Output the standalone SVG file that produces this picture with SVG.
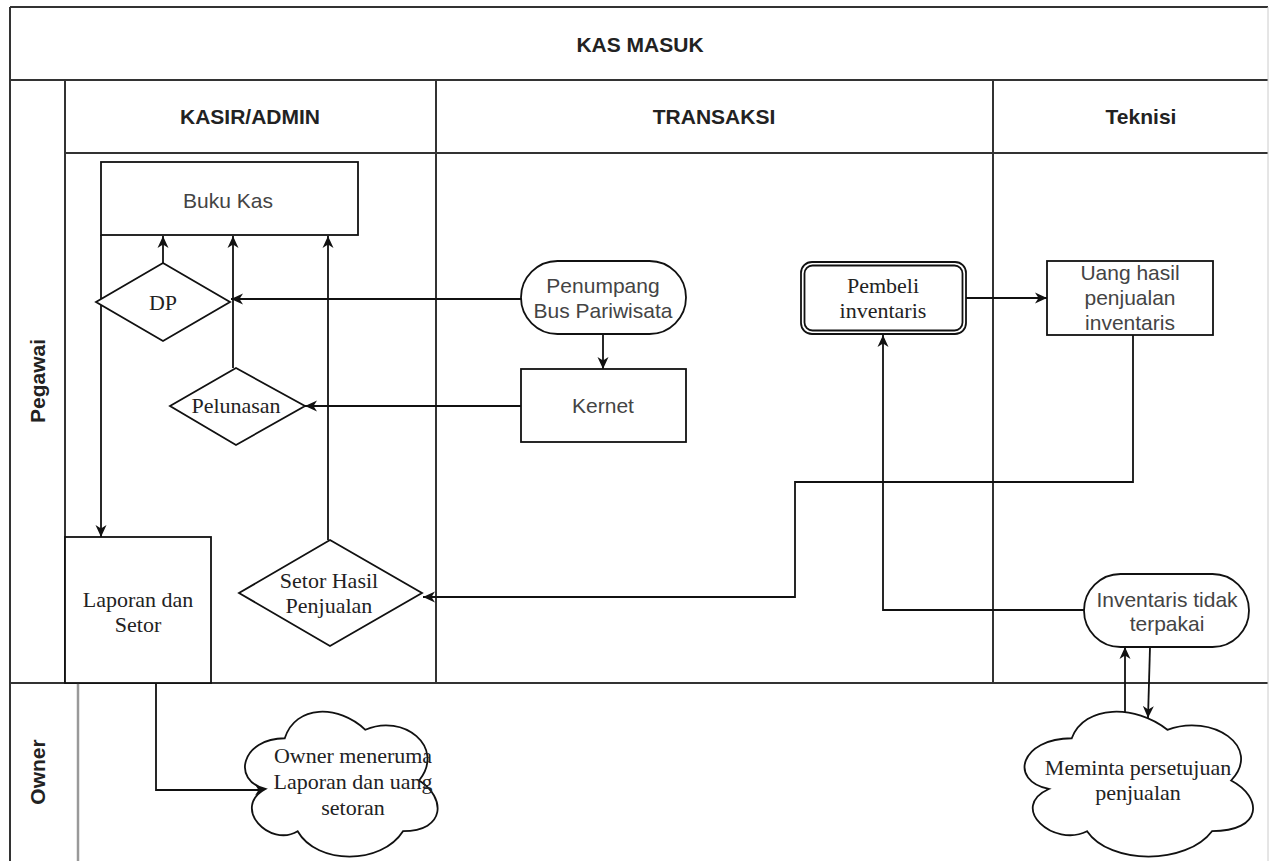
<svg xmlns="http://www.w3.org/2000/svg" width="1270" height="861" viewBox="0 0 1270 861">
<style>
.frame{stroke:#333;stroke-width:2;fill:none}
.shape{fill:#fff;stroke:#111;stroke-width:1.8}
.conn{fill:none;stroke:#111;stroke-width:1.8}
.hdr{font-family:"Liberation Sans",Arial,sans-serif;font-weight:bold;font-size:21px;fill:#222;text-anchor:middle}
.sans{font-family:"Liberation Sans",Arial,sans-serif;font-size:21px;fill:#444;text-anchor:middle}
.serif{font-family:"Liberation Serif","Times New Roman",serif;font-size:22px;fill:#222;text-anchor:middle}
</style>
<defs>
<marker id="arr" markerUnits="userSpaceOnUse" markerWidth="13" markerHeight="12" refX="12" refY="6" orient="auto">
<path d="M0,0.5 L12,6 L0,11.5 L3.5,6 Z" fill="#111"/>
</marker>
</defs>
<rect x="0" y="0" width="1270" height="861" fill="#fff"/>
<g id="pool">
<line class="frame" x1="10" y1="7" x2="1268" y2="7"/>
<line class="frame" x1="10" y1="80" x2="1268" y2="80"/>
<line class="frame" x1="65" y1="153" x2="1268" y2="153"/>
<line class="frame" x1="10" y1="7" x2="10" y2="861"/>
<line class="frame" x1="65" y1="80" x2="65" y2="683"/>
<line class="frame" x1="436" y1="80" x2="436" y2="683"/>
<line class="frame" x1="993" y1="80" x2="993" y2="683"/>
<line class="frame" x1="10" y1="683" x2="1268" y2="683"/>
<line x1="78" y1="683" x2="78" y2="861" stroke="#999" stroke-width="2.5"/>
<line x1="1268" y1="7" x2="1268" y2="861" stroke="#ccc" stroke-width="1"/>
<text class="hdr" x="640" y="52">KAS MASUK</text>
<text class="hdr" x="250" y="124">KASIR/ADMIN</text>
<text class="hdr" x="714" y="124">TRANSAKSI</text>
<text class="hdr" x="1141" y="124">Teknisi</text>
<text class="hdr" transform="translate(45,381) rotate(-90)" x="0" y="0">Pegawai</text>
<text class="hdr" transform="translate(45,772) rotate(-90)" x="0" y="0">Owner</text>
</g>
<g id="connectors">
<line class="conn" x1="163" y1="263" x2="163" y2="236" marker-end="url(#arr)"/>
<line class="conn" x1="233" y1="368" x2="233" y2="236" marker-end="url(#arr)"/>
<line class="conn" x1="328" y1="540" x2="328" y2="236" marker-end="url(#arr)"/>
<line class="conn" x1="101" y1="235" x2="101" y2="537" marker-end="url(#arr)"/>
<line class="conn" x1="521" y1="299" x2="231" y2="299" marker-end="url(#arr)"/>
<line class="conn" x1="603" y1="334" x2="603" y2="369" marker-end="url(#arr)"/>
<line class="conn" x1="521" y1="406" x2="305" y2="406" marker-end="url(#arr)"/>
<line class="conn" x1="966" y1="298" x2="1047" y2="298" marker-end="url(#arr)"/>
<polyline class="conn" points="1133,335 1133,482 795,482 795,597 423,597" marker-end="url(#arr)"/>
<polyline class="conn" points="1084,610 883,610 883,335" marker-end="url(#arr)"/>
<line class="conn" x1="1125" y1="713" x2="1125" y2="647" marker-end="url(#arr)"/>
<line class="conn" x1="1150" y1="647" x2="1148" y2="718" marker-end="url(#arr)"/>
<polyline class="conn" points="156,683 156,790 267,790" marker-end="url(#arr)"/>
</g>
<g id="buku-kas">
<rect class="shape" x="101" y="162" width="257" height="73"/>
<text class="sans" x="228" y="208">Buku Kas</text>
</g>
<g id="dp">
<polygon class="shape" points="163,263 230,302 163,341 96,302"/>
<text class="serif" x="163" y="310">DP</text>
</g>
<g id="pelunasan">
<polygon class="shape" points="236,368 305,406 236,445 170,406"/>
<text class="serif" x="236" y="413">Pelunasan</text>
</g>
<g id="laporan">
<rect class="shape" x="65" y="537" width="146" height="146"/>
<text class="serif" x="138" y="607">Laporan dan</text>
<text class="serif" x="138" y="632">Setor</text>
</g>
<g id="setor-hasil">
<polygon class="shape" points="330,540 422,593 330,646 239,593"/>
<text class="serif" x="329" y="588">Setor Hasil</text>
<text class="serif" x="329" y="613">Penjualan</text>
</g>
<g id="penumpang">
<rect class="shape" x="521" y="261" width="165" height="73" rx="36.5" ry="36.5"/>
<text class="sans" x="603" y="293">Penumpang</text>
<text class="sans" x="603" y="318">Bus Pariwisata</text>
</g>
<g id="kernet">
<rect class="shape" x="521" y="369" width="165" height="73"/>
<text class="sans" x="603" y="413">Kernet</text>
</g>
<g id="pembeli">
<rect class="shape" x="801" y="262" width="165" height="72" rx="11" ry="11"/>
<rect class="shape" x="804.5" y="265.5" width="158" height="65" rx="8" ry="8"/>
<text class="serif" x="883" y="293">Pembeli</text>
<text class="serif" x="883" y="318">inventaris</text>
</g>
<g id="uang-hasil">
<rect class="shape" x="1047" y="261" width="166" height="74"/>
<text class="sans" x="1130" y="280">Uang hasil</text>
<text class="sans" x="1130" y="305">penjualan</text>
<text class="sans" x="1130" y="330">inventaris</text>
</g>
<g id="inventaris">
<rect class="shape" x="1084" y="574" width="165" height="73" rx="36.5" ry="36.5"/>
<text class="sans" x="1167" y="607">Inventaris tidak</text>
<text class="sans" x="1167" y="631">terpakai</text>
</g>
<g id="owner-cloud">
<path class="shape" d="M284.75,738.25 C241.75,738.25 231,780.5 265.4,788.95 C231,807.5 269.7,848 297.65,831.2 C317,865 381.5,865 403,831.2 C446,831.2 446,797.4 419.125,780.5 C446,746.7 403,712.9 365.375,729.8 C338.5,704.45 295.5,704.45 284.75,738.25 Z"/>
<text class="serif" x="353" y="763">Owner meneruma</text>
<text class="serif" x="353" y="789">Laporan dan uang</text>
<text class="serif" x="353" y="815">setoran</text>
</g>
<g id="meminta-cloud">
<path class="shape" d="M1071.75,738.25 C1020.75,738.25 1008,780.5 1048.8,788.95 C1008,807.5 1053.9,848 1087.05,831.2 C1110,865 1186.5,865 1212,831.2 C1263,831.2 1263,797.4 1231.125,780.5 C1263,746.7 1212,712.9 1167.375,729.8 C1135.5,704.45 1084.5,704.45 1071.75,738.25 Z"/>
<text class="serif" x="1138" y="775">Meminta persetujuan</text>
<text class="serif" x="1138" y="800">penjualan</text>
</g>
</svg>
